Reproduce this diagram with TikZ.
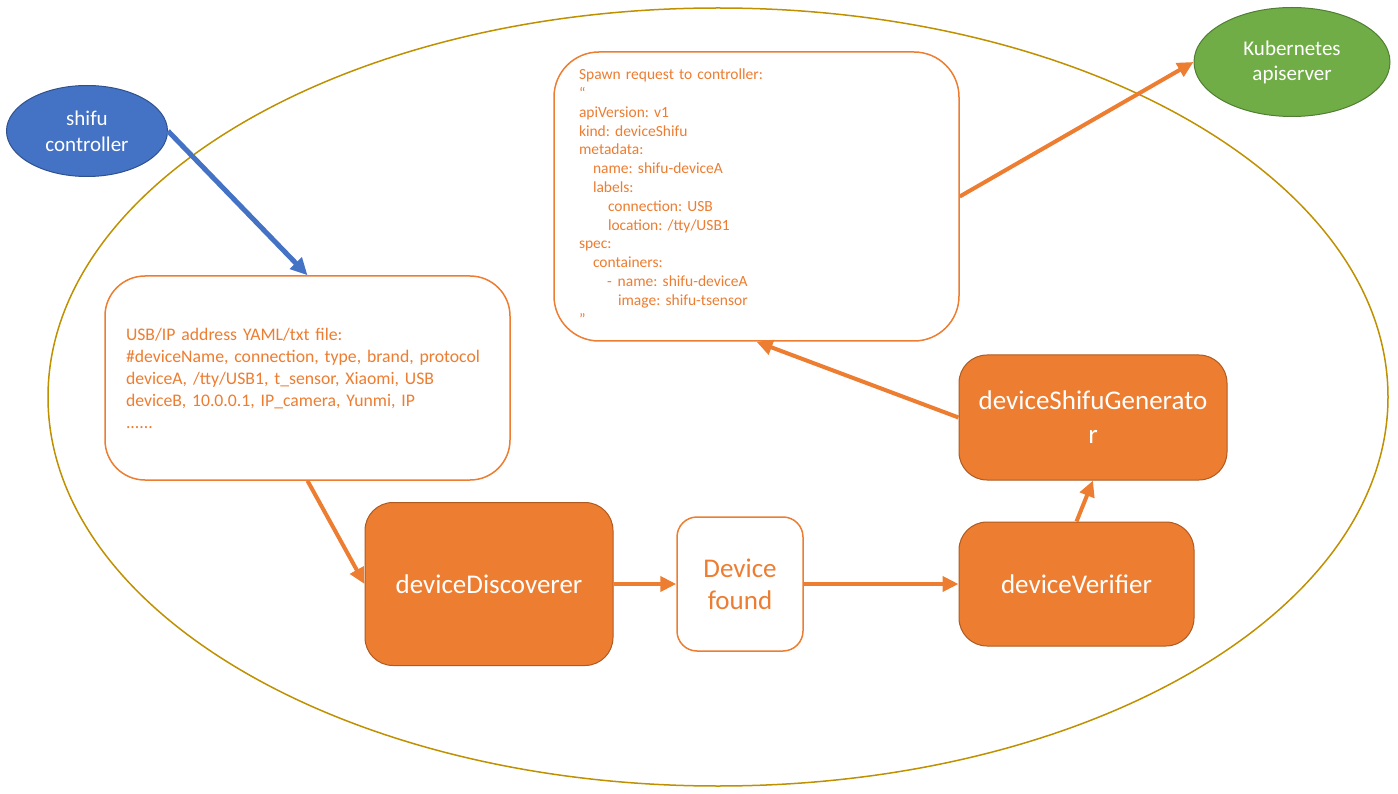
\documentclass[tikz,border=0pt]{standalone}
\usepackage{fontspec}
\setmainfont{Carlito}
\usepackage{tikz}
\usetikzlibrary{shapes,arrows.meta,calc}
\frenchspacing
\definecolor{accent}{HTML}{ED7D31}
\definecolor{accentdark}{HTML}{AE5A21}
\definecolor{ctrlblue}{HTML}{4472C4}
\definecolor{ctrlbluedark}{HTML}{2F528F}
\definecolor{kgreen}{HTML}{70AD47}
\definecolor{kgreendark}{HTML}{507E32}
\definecolor{gold}{HTML}{BF9000}
\tikzstyle{line} = [draw=accent, line width=4pt, -{Triangle[length=16pt,width=15pt]}]
\tikzstyle{block} = [draw=accentdark, fill=accent, rounded corners=28pt, line width=1pt, text=white, align=center, font=\fontsize{27}{34}\selectfont]
\tikzstyle{textbox} = [draw=accent, fill=white, line width=1.5pt, text=accent, align=left]
\tikzstyle{cloud} = [draw, ellipse, line width=1pt, text=white, align=center, inner sep=0pt]

\begin{document}
\begin{tikzpicture}[x=1pt, y=-1pt]
        \useasboundingbox (0,0) rectangle (1398,794);
        % outer boundary
        \draw[gold, line width=1.5pt] (718,397) ellipse [x radius=670, y radius=389];
        \node[cloud, draw=ctrlbluedark, fill=ctrlblue, minimum width=161pt, minimum height=91pt,
              font=\fontsize{21}{26}\selectfont] (ctrl) at (87,131) {shifu\\controller};
        \node[cloud, draw=kgreendark, fill=kgreen, minimum width=196pt, minimum height=109pt,
              font=\fontsize{21}{25}\selectfont] (apiserver) at (1292,62) {Kubernetes\\apiserver};
        \node[textbox, rounded corners=40pt, text width=363pt, inner xsep=21pt, minimum height=204pt,
              font=\fontsize{17.7}{22}\selectfont] (devlist) at (307.5,378) {USB/IP address YAML/txt file:\\
              \#deviceName, connection, type, brand, protocol\\
              deviceA, /tty/USB1, t\_sensor, Xiaomi, USB\\
              deviceB, 10.0.0.1, IP\_camera, Yunmi, IP\\
              ......};
        \node[textbox, rounded corners=45pt, text width=355pt, inner xsep=25pt, minimum height=289pt,
              font=\fontsize{15.5}{18.8}\selectfont] (spawn) at (756.5,196.5) {Spawn request to controller:\\
              “\\
              apiVersion: v1\\
              kind: deviceShifu\\
              metadata:\\
              \hspace*{14pt}name: shifu-deviceA\\
              \hspace*{14pt}labels:\\
              \hspace*{29pt}connection: USB\\
              \hspace*{29pt}location: /tty/USB1\\
              spec:\\
              \hspace*{14pt}containers:\\
              \hspace*{28pt}-\hspace*{6pt}name: shifu-deviceA\\
              \hspace*{39pt}image: shifu-tsensor\\
              ”};
        \node[block, minimum width=248pt, minimum height=163pt] (discoverer) at (489,584) {deviceDiscoverer};
        \node[textbox, rounded corners=20pt, align=center, minimum width=126pt, minimum height=134pt,
              font=\fontsize{27}{32}\selectfont] (found) at (740,584) {Device\\found};
        \node[block, minimum width=235pt, minimum height=124pt] (verifier) at (1076.5,584) {deviceVerifier};
        \node[block, minimum width=268pt, minimum height=125pt] (generator) at (1093,417.5) {deviceShifuGenerato\\r};
        \path[draw=ctrlblue, line width=5pt, -{Triangle[length=17pt,width=16pt]}] (ctrl.east) -- (devlist.north);
        \path[line] (devlist.south) -- (discoverer.west);
        \path[line] (discoverer.east) -- (found.west);
        \path[line] (found.east) -- (verifier.west);
        \path[line] (verifier.north) -- (generator.south);
        \path[line] (generator.west) -- (spawn.south);
        \path[line] (spawn.east) -- (apiserver.west);
    \end{tikzpicture}
\end{document}
